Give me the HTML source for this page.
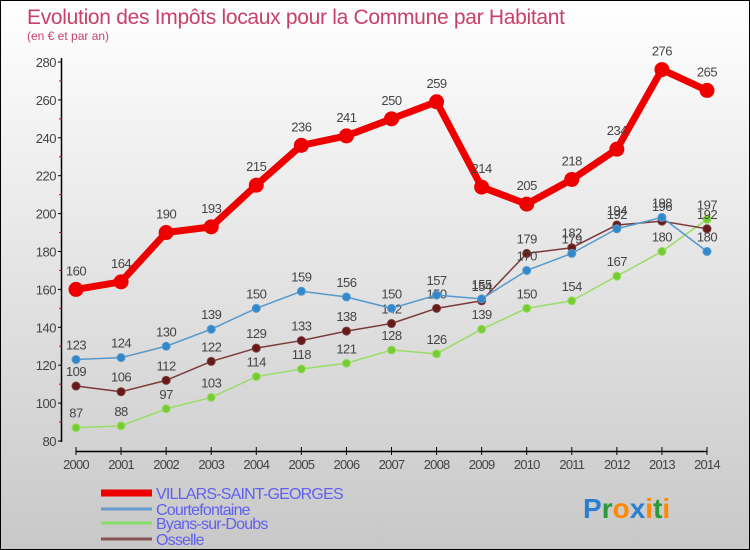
<!DOCTYPE html>
<html><head><meta charset="utf-8">
<style>
html,body{margin:0;padding:0;}
body{width:750px;height:550px;overflow:hidden;font-family:"Liberation Sans","DejaVu Sans",sans-serif;}
#wrap{position:relative;width:748px;height:548px;border:1px solid #000;background:linear-gradient(#ffffff,#c8c8c8);}
svg{position:absolute;left:0;top:0;}
</style></head>
<body>
<div id="wrap">
<svg id="chart" width="748" height="548"></svg>
</div>
<script>
const years = ['2000','2001','2002','2003','2004','2005','2006','2007','2008','2009','2010','2011','2012','2013','2014'];
const villars = [160,164,190,193,215,236,241,250,259,214,205,218,234,276,265];
const courtefontaine = [123,124,130,139,150,159,156,150,157,155,170,179,192,198,180];
const byans = [87,88,97,103,114,118,121,128,126,139,150,154,167,180,197];
const osselle = [109,106,112,122,129,133,138,142,150,154,179,182,194,196,192];
const yTicks = [80,100,120,140,160,180,200,220,240,260,280];
const seriesNames = ['VILLARS-SAINT-GEORGES','Courtefontaine','Byans-sur-Doubs','Osselle'];

const NS='http://www.w3.org/2000/svg';
const svg=document.getElementById('chart');
const X0=75, X1=706, Y80=440, Y280=61;
function xs(i){return X0+(X1-X0)*i/(years.length-1);}
function ys(v){return Y80+(v-80)*(Y280-Y80)/200;}
function mk(tag,attrs,parent){const e=document.createElementNS(NS,tag);for(const k in attrs)e.setAttribute(k,attrs[k]);(parent||svg).appendChild(e);return e;}

let t=mk('text',{x:26,y:23,'font-size':21,fill:'#c8406a','letter-spacing':'-0.3'});t.textContent='Evolution des Impôts locaux pour la Commune par Habitant';


t=mk('text',{x:26,y:39,'font-size':12,fill:'#c8406a'});t.textContent='(en € et par an)';



let ax=mk('line',{x1:60.5,y1:57,x2:60.5,y2:441,stroke:'#000','stroke-width':1.5});


yTicks.forEach((v,i)=>{
  const y=ys(v);
  mk('line',{x1:57,y1:y,x2:61,y2:y,stroke:'#000'});
  if(i<yTicks.length-1){const ym=ys(v+10);mk('line',{x1:58,y1:ym,x2:61,y2:ym,stroke:'#d00'});}
  const l=mk('text',{x:55,y:y+5,'font-size':13,fill:'#444','text-anchor':'end','letter-spacing':'-0.5'});l.textContent=v;
  
  
});
ax=mk('line',{x1:75,y1:450.5,x2:706,y2:450.5,stroke:'#000','stroke-width':1.5});


years.forEach((yr,i)=>{
  const x=xs(i);
  mk('line',{x1:x,y1:446,x2:x,y2:454,stroke:'#000'});
  const l=mk('text',{x:x,y:468,'font-size':13,fill:'#444','text-anchor':'middle','letter-spacing':'-0.8'});l.textContent=yr;
  
  
});

function drawSeries(data,color,fill,w,r,name,labelDy){
  const g=mk('g',{});
  
  
  const pts=data.map((v,i)=>xs(i)+','+ys(v)).join(' ');
  mk('polyline',{points:pts,fill:'none',stroke:color,'stroke-width':w,'stroke-linejoin':'round'},g);
  data.forEach((v,i)=>{
    const c=mk('circle',{cx:xs(i),cy:ys(v),r:r,fill:fill,stroke:color,'stroke-width':1},g);
    
    
    const l=mk('text',{x:xs(i),y:ys(v)-labelDy,'font-size':13,fill:'#444','text-anchor':'middle','letter-spacing':'-0.5'},g);l.textContent=v;
    
    
  });
}
drawSeries(byans,'#99dd66','#77cc33',1.5,4,'byans',10);
drawSeries(osselle,'#7a3a3a','#661a1a',1.5,4,'osselle',10);
drawSeries(courtefontaine,'#5599cc','#3388cc',1.5,4,'courtefontaine',10);
drawSeries(villars,'#ee0000','#ee0000',7,7,'villars',14);

const legColors=['#ee0000','#6699cc','#88dd66','#885555'];
const legW=[7,3,3,3];
const legY=[492,508,522,538];
seriesNames.forEach((n,i)=>{
  const g=mk('g',{});
  
  
  mk('line',{x1:100,y1:legY[i],x2:151,y2:legY[i],stroke:legColors[i],'stroke-width':legW[i]},g);
  const l=mk('text',{x:155,y:legY[i]+6,'font-size':16,fill:'#6060f0','letter-spacing':'-0.8'},g);l.textContent=n;
});

const logo=mk('text',{x:582,y:517,'font-size':28,'font-weight':'bold'});


[['P','#2a7fd0'],['r','#2a9a3a'],['o','#ff8800'],['x','#2a7fd0'],['i','#ff8800'],['t','#2a9a3a'],['i','#ff8800']].forEach(([c,col])=>{
  const s=mk('tspan',{fill:col},logo);s.textContent=c;
});
</script>
</body></html>
